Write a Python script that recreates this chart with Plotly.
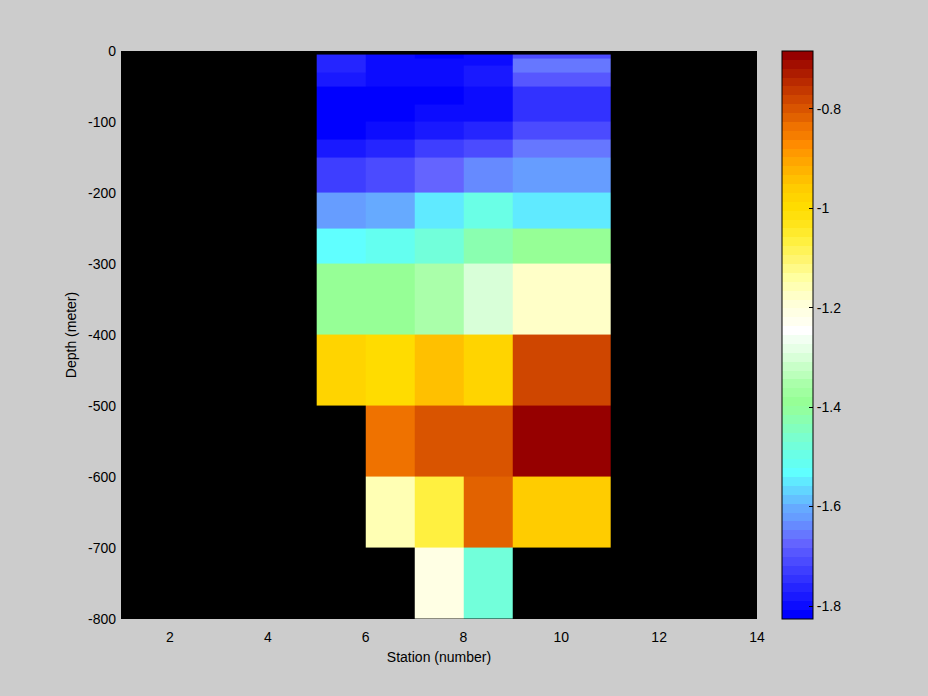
import plotly.graph_objects as go

# Station grid edges (number) and depth grid edges (meter)
station_edges = [5, 6, 7, 8, 9, 11]
depth_edges = [5, 10, 20, 30, 50, 75, 100, 125, 150, 200, 250, 300, 400, 500, 600, 700, 800]

# Values per depth layer (columns follow station cells 5-6, 6-7, 7-8, 8-9, 9-11)
layer_5 = [-1.764, -1.799, -1.817, -1.799, -1.710]
layer_10 = [-1.764, -1.799, -1.799, -1.799, -1.656]
layer_20 = [-1.764, -1.799, -1.799, -1.781, -1.656]
layer_30 = [-1.781, -1.799, -1.799, -1.781, -1.692]
layer_50 = [-1.826, -1.817, -1.817, -1.799, -1.746]
layer_75 = [-1.817, -1.817, -1.799, -1.799, -1.746]
layer_100 = [-1.817, -1.799, -1.781, -1.764, -1.710]
layer_125 = [-1.781, -1.764, -1.728, -1.710, -1.656]
layer_150 = [-1.728, -1.710, -1.674, -1.638, -1.621]
layer_200 = [-1.621, -1.603, -1.549, -1.496, -1.549]
layer_250 = [-1.531, -1.513, -1.478, -1.424, -1.389]
layer_300 = [-1.389, -1.389, -1.353, -1.300, -1.174]
layer_400 = [-0.978, -0.996, -0.942, -0.978, -0.782]
layer_500 = [None, -0.835, -0.799, -0.799, -0.684]
layer_600 = [None, -1.157, -1.067, -0.817, -0.960]
layer_700 = [None, None, -1.210, -1.478, None]

layers = [layer_5, layer_10, layer_20, layer_30, layer_50, layer_75, layer_100,
          layer_125, layer_150, layer_200, layer_250, layer_300, layer_400,
          layer_500, layer_600, layer_700]

x_ticks = [2, 4, 6, 8, 10, 12, 14]
y_ticks = [0, -100, -200, -300, -400, -500, -600, -700, -800]
cb_ticks = [-1.8, -1.6, -1.4, -1.2, -1.0, -0.8]
cb_labels = ["-1.8", "-1.6", "-1.4", "-1.2", "-1", "-0.8"]

# 64-step colormap (bottom to top)
cmap = [
    "#0000ff", "#0c0cff", "#1919ff", "#2525ff", "#3232ff", "#3e3eff", "#4b4bff", "#5757ff",
    "#6464ff", "#6677ff", "#668aff", "#669dff", "#66aaff", "#64c0ff", "#62d5ff", "#60eaff",
    "#60ffff", "#64fff0", "#6affe6", "#72ffda", "#7affce", "#82ffbe", "#8affb0", "#92ffa0",
    "#96ff96", "#a0ffa0", "#aaffaa", "#bbffbb", "#c8ffc8", "#d8ffd8", "#e6ffe6", "#f2fff2",
    "#ffffff", "#fffff0", "#ffffe4", "#ffffd8", "#ffffc8", "#ffffb4", "#ffffa0", "#fffa88",
    "#fff570", "#fff358", "#fff040", "#ffea2c", "#ffe41a", "#ffe00c", "#ffdc00", "#ffd400",
    "#ffcc00", "#ffc000", "#ffb300", "#ffa600", "#ff9900", "#ff8b00", "#f57d00", "#ef7200",
    "#e26200", "#d95400", "#cf4600", "#c43800", "#b92a00", "#ad1c00", "#a20e00", "#960000",
]
n = len(cmap)
colorscale = []
for k, c in enumerate(cmap):
    colorscale.append([k / n, c])
    colorscale.append([(k + 1) / n, c])

zmin, zmax = -1.826, -0.684

font = dict(family="Liberation Sans, Arial, sans-serif", size=14, color="black")

fig = go.Figure(go.Heatmap(
    x=station_edges,
    y=[-d for d in depth_edges],
    z=layers,
    zmin=zmin, zmax=zmax,
    colorscale=colorscale,
    hoverongaps=False,
    colorbar=dict(
        x=(782 - 121) / 636, xanchor="left", xpad=0,
        y=0.5, yanchor="middle", len=1.0, lenmode="fraction", ypad=0,
        thickness=31, thicknessmode="pixels",
        outlinewidth=1, outlinecolor="black",
        tickvals=cb_ticks, ticktext=cb_labels,
        ticks="inside", ticklen=4, tickcolor="black",
        tickfont=font,
    ),
))

fig.update_layout(
    width=928, height=696,
    margin=dict(l=121, r=171, t=51, b=77),
    paper_bgcolor="#cccccc",
    plot_bgcolor="black",
    font=font,
    xaxis=dict(
        range=[1, 14], tickvals=x_ticks, ticktext=[str(v) for v in x_ticks],
        showgrid=False, zeroline=False, ticks="",
        ticklabelstandoff=8,
        title=dict(text="Station (number)", font=font, standoff=8),
        tickfont=font,
    ),
    yaxis=dict(
        range=[-800, 0], tickvals=y_ticks, ticktext=[str(v) for v in y_ticks],
        showgrid=False, zeroline=False, ticks="",
        ticklabelstandoff=4,
        title=dict(text="Depth (meter)", font=font, standoff=8),
        tickfont=font,
    ),
)

fig.write_html(
    "out.html",
    config={"displayModeBar": False},
    post_script="document.body.style.margin='0';document.body.style.background='#cccccc';",
)
